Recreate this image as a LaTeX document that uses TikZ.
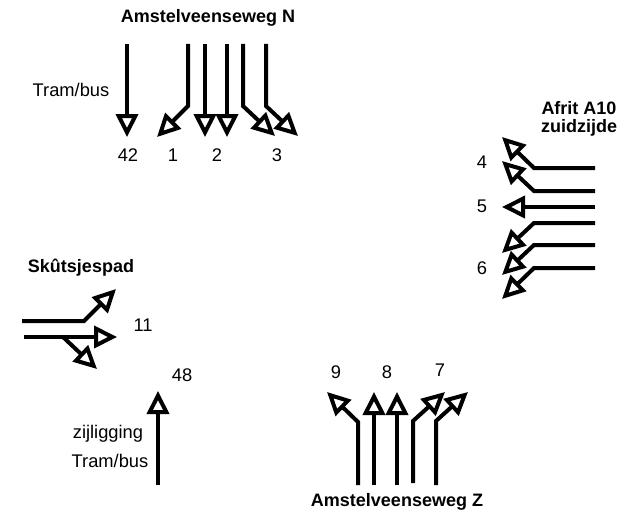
\documentclass[tikz,border=0pt]{standalone}
\usepackage{fontspec}
\setmainfont{Liberation Sans}
\usetikzlibrary{arrows.meta}
\tikzset{
  lane/.style={line width=4pt,line join=miter,-{Triangle[open,length=23pt,width=22pt,line width=4pt]}},
  lbl/.style={inner sep=0pt,font=\fontsize{18.3}{20}\selectfont},
  ttl/.style={inner sep=0pt,font=\fontsize{18}{20}\selectfont\bfseries}
}
\begin{document}
\begin{tikzpicture}[x=1pt,y=-1pt]
\useasboundingbox (0,0) rectangle (620,519);
% labels
\node[ttl] (tN) at (208,18) {Amstelveenseweg N};
\node[lbl] (tb1) at (71,90) {Tram/bus};
\node[lbl] (n42) at (128,155) {42};
\node[lbl] (n1) at (173,155) {1};
\node[lbl] (n2) at (217,155) {2};
\node[lbl] (n3) at (277,155) {3};
\node[ttl] (tA) at (579,108) {Afrit A10};
\node[ttl] (tzz) at (579,128) {zuidzijde};
\node[lbl] (n4) at (482,162) {4};
\node[lbl] (n5) at (482,206) {5};
\node[lbl] (n6) at (482,268) {6};
\node[ttl] (tS) at (81,268) {Skûtsjespad};
\node[lbl] (n11) at (143,325) {11};
\node[lbl] (n48) at (182,375) {48};
\node[lbl] (tz) at (108,434) {zijligging};
\node[lbl] (tb2) at (110,461) {Tram/bus};
\node[lbl] (n9) at (336,372) {9};
\node[lbl] (n8) at (387,372) {8};
\node[lbl] (n7) at (440,370) {7};
\node[ttl] (tZ) at (397,502) {Amstelveenseweg Z};
% north
\coordinate (a42s) at (127,44);  \coordinate (a42e) at (127,137);
\coordinate (a1s) at (188,44);   \coordinate (a1b) at (188,106); \coordinate (a1e) at (157,137);
\coordinate (a2s) at (205,44);   \coordinate (a2e) at (205,137);
\coordinate (a2ts) at (227,44);  \coordinate (a2te) at (227,137);
\coordinate (a3s) at (243,44);   \coordinate (a3b) at (243,106); \coordinate (a3e) at (275,136);
\coordinate (a3ts) at (266,44);  \coordinate (a3tb) at (266,106); \coordinate (a3te) at (298,136);
\draw[lane] (a42s) -- (a42e);
\draw[lane] (a1s) -- (a1b) -- (a1e);
\draw[lane] (a2s) -- (a2e);
\draw[lane] (a2ts) -- (a2te);
\draw[lane] (a3s) -- (a3b) -- (a3e);
\draw[lane] (a3ts) -- (a3tb) -- (a3te);
% east
\coordinate (e1s) at (595,168); \coordinate (e1b) at (534,168); \coordinate (e1e) at (502,137);
\coordinate (e2s) at (595,191); \coordinate (e2b) at (534,191); \coordinate (e2e) at (502,161);
\coordinate (e3s) at (595,207); \coordinate (e3e) at (502,207);
\coordinate (e4s) at (595,223); \coordinate (e4b) at (534,223); \coordinate (e4e) at (502,253);
\coordinate (e5s) at (595,245); \coordinate (e5b) at (534,245); \coordinate (e5e) at (502,275);
\coordinate (e6s) at (595,268); \coordinate (e6b) at (534,268); \coordinate (e6e) at (502,299);
\draw[lane] (e1s) -- (e1b) -- (e1e);
\draw[lane] (e2s) -- (e2b) -- (e2e);
\draw[lane] (e3s) -- (e3e);
\draw[lane] (e4s) -- (e4b) -- (e4e);
\draw[lane] (e5s) -- (e5b) -- (e5e);
\draw[lane] (e6s) -- (e6b) -- (e6e);
% west
\coordinate (w1s) at (22,321); \coordinate (w1b) at (84,321); \coordinate (w1e) at (116,289);
\coordinate (w2s) at (24,337); \coordinate (w2e) at (117,337);
\coordinate (w3s) at (63,337); \coordinate (w3e) at (97,369);
\draw[lane] (w1s) -- (w1b) -- (w1e);
\draw[lane] (w2s) -- (w2e);
\draw[lane] (w3s) -- (w3e);
\coordinate (t48s) at (158,485); \coordinate (t48e) at (158,391);
\draw[lane] (t48s) -- (t48e);
% south
\coordinate (s9s) at (358,485); \coordinate (s9b) at (358,422); \coordinate (s9e) at (327,392);
\coordinate (s8s) at (374,485); \coordinate (s8e) at (374,392);
\coordinate (s8ts) at (397,485); \coordinate (s8te) at (397,392);
\coordinate (s7s) at (413,483); \coordinate (s7b) at (413,421); \coordinate (s7e) at (445,392);
\coordinate (s7ts) at (436,485); \coordinate (s7tb) at (436,421); \coordinate (s7te) at (468,392);
\draw[lane] (s9s) -- (s9b) -- (s9e);
\draw[lane] (s8s) -- (s8e);
\draw[lane] (s8ts) -- (s8te);
\draw[lane] (s7s) -- (s7b) -- (s7e);
\draw[lane] (s7ts) -- (s7tb) -- (s7te);
\end{tikzpicture}
\end{document}
